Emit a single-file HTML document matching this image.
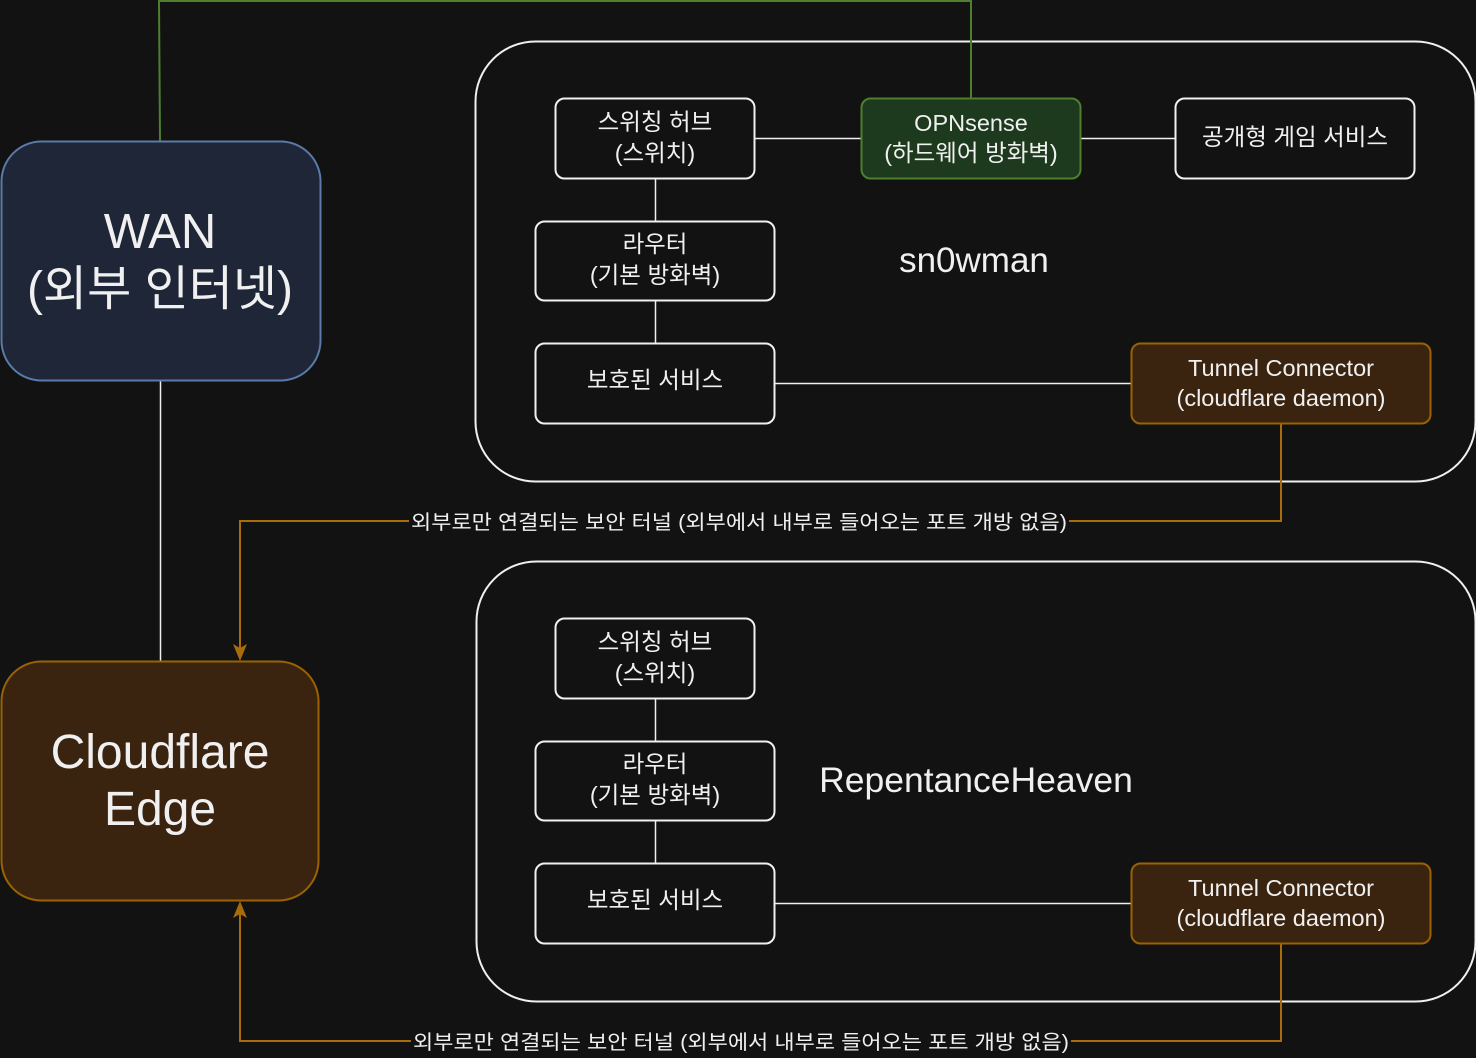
<!DOCTYPE html>
<html><head><meta charset="utf-8"><style>
html,body{margin:0;padding:0;background:#121212;}
svg{display:block;}
text{font-family:"Liberation Sans","Noto Sans CJK KR",sans-serif;fill:#f0f0f0;}
</style></head><body>
<svg width="1476" height="1058" viewBox="0 0 1476 1058" xmlns="http://www.w3.org/2000/svg">
<rect width="1476" height="1058" fill="#121212"/>
<rect x="475.5" y="41.5" width="1000" height="440" rx="60" fill="none" stroke="#f0f0f0" stroke-width="2"/>
<rect x="476.5" y="561.5" width="999" height="440" rx="60" fill="none" stroke="#f0f0f0" stroke-width="2"/>
<polyline points="160,141 159,1 971,1 971,98" fill="none" stroke="#4e7f2e" stroke-width="2"/>
<line x1="160.5" y1="381" x2="160.5" y2="661" stroke="#f0f0f0" stroke-width="1.5"/>
<g stroke="#f0f0f0" stroke-width="1.5">
<line x1="755" y1="138.5" x2="861" y2="138.5"/>
<line x1="1081" y1="138.5" x2="1175" y2="138.5"/>
<line x1="655.5" y1="178" x2="655.5" y2="221"/>
<line x1="655.5" y1="301" x2="655.5" y2="343"/>
<line x1="775" y1="383.5" x2="1131" y2="383.5"/>
<line x1="655.5" y1="698" x2="655.5" y2="741"/>
<line x1="655.5" y1="821" x2="655.5" y2="863"/>
<line x1="775" y1="903.5" x2="1131" y2="903.5"/>
</g>
<g stroke="#a86c08" stroke-width="2" fill="none">
<polyline points="1281,423 1281,521 240,521 240,648"/>
<polyline points="1281,943 1281,1041 240,1041 240,914"/>
</g>
<polygon points="240,661 233,644 240,648 247,644" fill="#a86c08"/>
<polygon points="240,901 233,918 240,914 247,918" fill="#a86c08"/>
<rect x="409" y="508" width="660" height="26" fill="#121212"/>
<text x="411" y="529" font-size="20" textLength="656" lengthAdjust="spacingAndGlyphs">외부로만 연결되는 보안 터널 (외부에서 내부로 들어오는 포트 개방 없음)</text>
<rect x="411" y="1028" width="660" height="26" fill="#121212"/>
<text x="413" y="1049" font-size="20" textLength="656" lengthAdjust="spacingAndGlyphs">외부로만 연결되는 보안 터널 (외부에서 내부로 들어오는 포트 개방 없음)</text>
<rect x="1.5" y="141.5" width="319" height="239" rx="40" fill="#1e2638" stroke="#5a7aa8" stroke-width="2"/>
<text x="160" y="248" font-size="49" text-anchor="middle">WAN</text>
<text x="160" y="305" font-size="48" text-anchor="middle">(외부 인터넷)</text>
<rect x="1.5" y="661.5" width="317" height="239" rx="40" fill="#3a2410" stroke="#9a6200" stroke-width="2"/>
<text x="160" y="768" font-size="48" text-anchor="middle">Cloudflare</text>
<text x="160" y="825" font-size="48" text-anchor="middle">Edge</text>
<g stroke="#f0f0f0" stroke-width="2" fill="#121212">
<rect x="555.5" y="98.5" width="199" height="80" rx="9"/>
<rect x="1175.5" y="98.5" width="239" height="80" rx="9"/>
<rect x="535.5" y="221.5" width="239" height="79" rx="9"/>
<rect x="535.5" y="343.5" width="239" height="80" rx="9"/>
<rect x="555.5" y="618.5" width="199" height="80" rx="9"/>
<rect x="535.5" y="741.5" width="239" height="79" rx="9"/>
<rect x="535.5" y="863.5" width="239" height="80" rx="9"/>
</g>
<rect x="861.5" y="98.5" width="219" height="80" rx="9" fill="#1e3a1e" stroke="#4e7f2e" stroke-width="2"/>
<rect x="1131.5" y="343.5" width="299" height="80" rx="9" fill="#3a2410" stroke="#9a6200" stroke-width="2"/>
<rect x="1131.5" y="863.5" width="299" height="80" rx="9" fill="#3a2410" stroke="#9a6200" stroke-width="2"/>
<g font-size="23.5" text-anchor="middle">
<text x="655" y="130">스위칭 허브</text>
<text x="655" y="161">(스위치)</text>
<text x="971" y="131">OPNsense</text>
<text x="971" y="161">(하드웨어 방화벽)</text>
<text x="1295" y="145">공개형 게임 서비스</text>
<text x="655" y="252">라우터</text>
<text x="655" y="283">(기본 방화벽)</text>
<text x="655" y="388">보호된 서비스</text>
<text x="1281" y="376">Tunnel Connector</text>
<text x="1281" y="406">(cloudflare daemon)</text>
<text x="655" y="650">스위칭 허브</text>
<text x="655" y="681">(스위치)</text>
<text x="655" y="772">라우터</text>
<text x="655" y="803">(기본 방화벽)</text>
<text x="655" y="908">보호된 서비스</text>
<text x="1281" y="896">Tunnel Connector</text>
<text x="1281" y="926">(cloudflare daemon)</text>
</g>
<text x="974" y="272" font-size="35" text-anchor="middle">sn0wman</text>
<text x="976" y="792" font-size="35.5" text-anchor="middle">RepentanceHeaven</text>
</svg>
</body></html>
